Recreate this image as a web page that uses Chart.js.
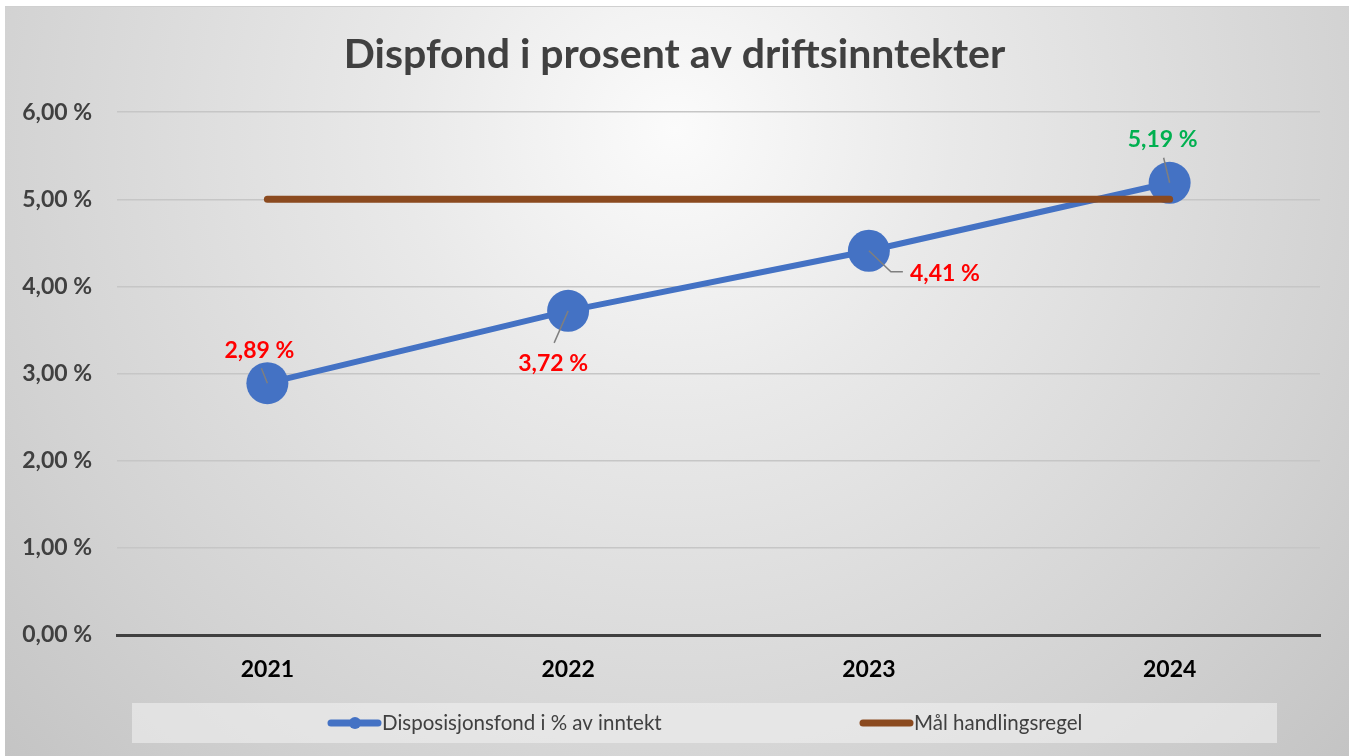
<!DOCTYPE html>
<html>
<head>
<meta charset="utf-8">
<script src="https://cdn.jsdelivr.net/npm/chart.js@4"></script>
<style>
html,body{margin:0;padding:0;background:#fff;}
canvas{display:block;}
</style>
</head>
<body>
<canvas id="c" width="1349" height="756"></canvas>
<script>
const categories = ['2021', '2022', '2023', '2024'];
const dispfondValues = [2.89, 3.72, 4.41, 5.19];
const targetValues = [5, 5, 5, 5];
const seriesNames = ['Disposisjonsfond i % av inntekt', 'Mål handlingsregel'];
const titleText = 'Dispfond i prosent av driftsinntekter';
const yTickValues = [0, 1, 2, 3, 4, 5, 6];

const FONT = 'Lato, "Open Sans", sans-serif';
const fmt = v => v.toFixed(2).replace('.', ',') + ' %';

const bgPlugin = {
  id: 'bg',
  beforeDraw(chart) {
    const ctx = chart.ctx;
    ctx.save();
    ctx.fillStyle = '#ffffff';
    ctx.fillRect(0, 0, chart.width, chart.height);
    const g = ctx.createRadialGradient(675, 130, 0, 675, 130, 920);
    g.addColorStop(0, '#fbfbfb');
    g.addColorStop(0.3, '#e9e9e9');
    g.addColorStop(0.75, '#d2d2d2');
    g.addColorStop(1, '#c4c4c4');
    ctx.fillStyle = g;
    ctx.fillRect(5, 6, chart.width - 5, chart.height - 6);
    ctx.strokeStyle = '#d0d0d0';
    ctx.lineWidth = 1;
    ctx.beginPath();
    ctx.moveTo(5, 6.5); ctx.lineTo(chart.width, 6.5);
    ctx.stroke();
    ctx.restore();
  }
};

// label placement relative to each point (dx, dy of label centre; leader elbow)
const labelPlacement = [
  {dx: -8, dy: -33, lead: [[-6, -15]]},
  {dx: -15, dy: 53, lead: [[-14, 32]]},
  {dx: 76, dy: 23, lead: [[22, 21], [34, 21]]},
  {dx: -7, dy: -43, lead: [[-6, -25]]}
];

const labelPlugin = {
  id: 'pointLabels',
  afterDatasetsDraw(chart) {
    const ctx = chart.ctx;
    const meta = chart.getDatasetMeta(0);
    ctx.save();
    meta.data.forEach((pt, i) => {
      const p = labelPlacement[i];
      const v = dispfondValues[i];
      ctx.strokeStyle = '#7f7f7f';
      ctx.lineWidth = 1.5;
      ctx.beginPath();
      ctx.moveTo(pt.x, pt.y);
      p.lead.forEach(l => ctx.lineTo(pt.x + l[0], pt.y + l[1]));
      ctx.stroke();
      ctx.fillStyle = v >= targetValues[i] ? '#00b050' : '#ff0000';
      ctx.font = 'bold 23px ' + FONT;
      ctx.textAlign = 'center';
      ctx.textBaseline = 'middle';
      ctx.fillText(fmt(v), pt.x + p.dx, pt.y + p.dy);
    });
    ctx.restore();
  }
};

const legendPlugin = {
  id: 'customLegend',
  afterDraw(chart) {
    const ctx = chart.ctx;
    ctx.save();
    ctx.fillStyle = 'rgba(240,240,240,0.6)';
    ctx.fillRect(132, 703, 1145, 40);
    const items = [
      {x: 328, ds: chart.data.datasets[0], marker: true},
      {x: 860, ds: chart.data.datasets[1], marker: false}
    ];
    const y = 723;
    items.forEach(it => {
      ctx.strokeStyle = it.ds.borderColor;
      ctx.lineWidth = 7;
      ctx.lineCap = 'round';
      ctx.beginPath();
      ctx.moveTo(it.x + 3, y); ctx.lineTo(it.x + 50, y);
      ctx.stroke();
      if (it.marker) {
        ctx.fillStyle = it.ds.backgroundColor;
        ctx.beginPath();
        ctx.arc(it.x + 27, y, 6, 0, Math.PI * 2);
        ctx.fill();
      }
      ctx.fillStyle = '#404040';
      ctx.font = '20.5px ' + FONT;
      ctx.textAlign = 'left';
      ctx.textBaseline = 'middle';
      ctx.fillText(it.ds.label, it.x + 54, y);
    });
    ctx.restore();
  }
};

new Chart(document.getElementById('c'), {
  type: 'line',
  data: {
    labels: categories,
    datasets: [
      {
        label: seriesNames[0],
        data: dispfondValues,
        borderColor: '#4472c4',
        backgroundColor: '#4472c4',
        borderWidth: 6,
        pointRadius: 21,
        pointHoverRadius: 21,
        pointBorderWidth: 0,
        pointBackgroundColor: '#4472c4',
        tension: 0,
        order: 2
      },
      {
        label: seriesNames[1],
        data: targetValues,
        borderColor: '#8b4a1f',
        backgroundColor: '#8b4a1f',
        borderWidth: 7,
        borderCapStyle: 'round',
        pointRadius: 0,
        tension: 0,
        order: 1
      }
    ]
  },
  options: {
    responsive: false,
    animation: false,
    events: [],
    layout: {padding: {left: 0, right: 0, top: 0, bottom: 60}},
    plugins: {
      legend: {display: false},
      tooltip: {enabled: false},
      title: {
        display: true,
        text: titleText,
        color: '#404040',
        font: {family: FONT, size: 41, weight: 'bold'},
        padding: {top: 30, bottom: 33}
      }
    },
    scales: {
      x: {
        offset: true,
        grid: {display: false, drawTicks: false},
        border: {display: true, color: '#404040', width: 3},
        ticks: {color: '#000000', font: {family: FONT, size: 23, weight: 'bold'}, padding: 21},
        afterFit(s) { s.height = 61; }
      },
      y: {
        min: 0, max: 6,
        afterBuildTicks(s) { s.ticks = yTickValues.map(v => ({value: v})); },
        grid: {
          drawTicks: false,
          color: c => c.tick && c.tick.value === 0 ? '#404040' : '#c6c6c6',
          lineWidth: c => c.tick && c.tick.value === 0 ? 3 : 1.5
        },
        border: {display: false},
        ticks: {
          color: '#404040',
          font: {family: FONT, size: 23, weight: 'bold'},
          padding: 25,
          callback: v => fmt(v)
        },
        afterFit(s) { s.width = 117; }
      },
      yRight: {
        type: 'linear',
        position: 'right',
        min: 0, max: 6,
        grid: {display: false, drawTicks: false},
        border: {display: false},
        ticks: {display: false},
        afterFit(s) { s.width = 29; }
      }
    }
  },
  plugins: [bgPlugin, labelPlugin, legendPlugin]
});
</script>
</body>
</html>
